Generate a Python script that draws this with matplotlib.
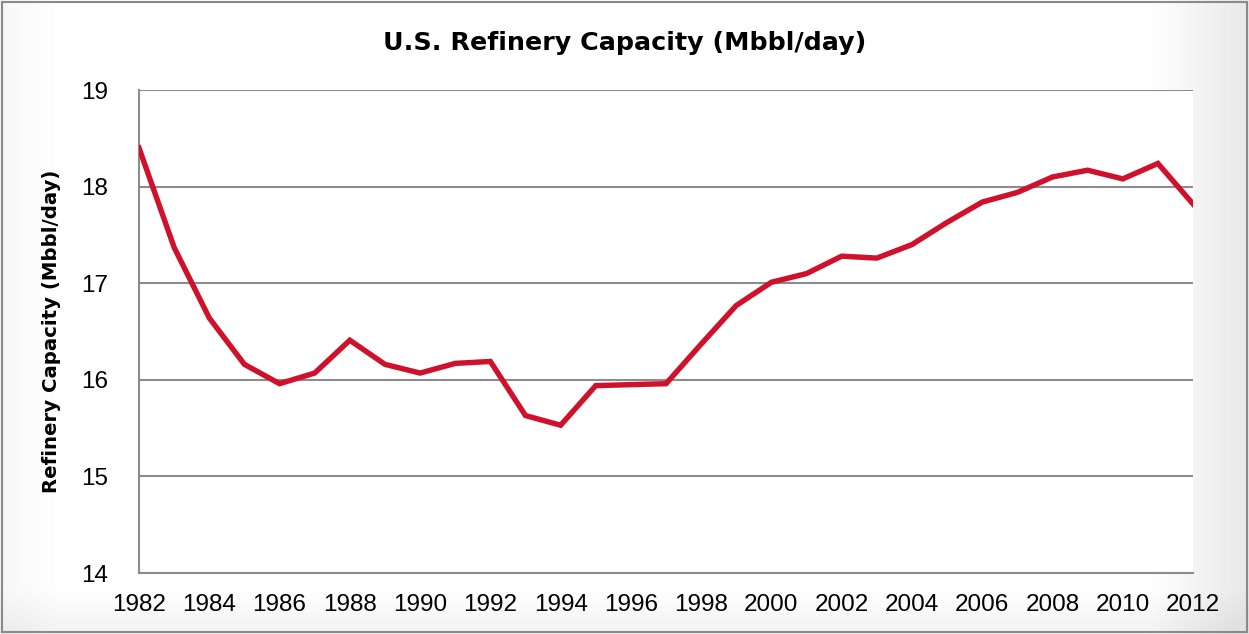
import matplotlib
matplotlib.use("Agg")
import matplotlib.pyplot as plt
import numpy as np

years = list(range(1982, 2013))
capacity = [18.40, 17.37, 16.64, 16.16, 15.96, 16.07, 16.41, 16.16, 16.07, 16.17,
            16.19, 15.63, 15.53, 15.94, 15.95, 15.96, 16.37, 16.77, 17.01, 17.10,
            17.28, 17.26, 17.40, 17.63, 17.84, 17.94, 18.10, 18.17, 18.08, 18.24, 17.82]
xticks = list(range(1982, 2013, 2))
yticks = [14, 15, 16, 17, 18, 19]

plt.rcParams['font.family'] = ['Liberation Sans', 'DejaVu Sans']

fig = plt.figure(figsize=(12.49, 6.34), dpi=100)
fig.patch.set_facecolor('white')

# subtle gradient background
xx = np.linspace(0, 1, 1249)
yy = np.linspace(0, 1, 634)
shade = np.clip((xx - 0.92) / 0.08, 0, 1)[None, :] * 0.09 + np.clip((yy - 0.93) / 0.07, 0, 1)[:, None] * 0.05
shade += np.clip((0.05 - xx) / 0.05, 0, 1)[None, :] * 0.03
img = 1 - np.clip(shade, 0, 0.12)
bg = fig.add_axes([0, 0, 1, 1], zorder=-10)
bg.imshow(img, cmap='gray', vmin=0, vmax=1, aspect='auto', extent=[0, 1, 0, 1])
bg.axis('off')
border = plt.Rectangle((0.002, 0.003), 0.996, 0.994, transform=fig.transFigure,
                       fill=False, edgecolor='#8a8a8a', linewidth=1.5)
fig.patches.append(border)

ax = fig.add_axes([0.1113, 0.0962, 0.9552 - 0.1113, 0.858 - 0.0962])
ax.set_facecolor('white')
ax.plot(years, capacity, color='#D0112B', linewidth=3.9, solid_joinstyle='miter', zorder=3)
ax.set_xlim(1982, 2012)
ax.set_ylim(14, 19)
ax.set_xticks(xticks)
ax.set_yticks(yticks)
ax.tick_params(length=0, labelsize=17.5, colors='black')
ax.tick_params(axis='x', pad=15)
ax.tick_params(axis='y', pad=22)
ax.grid(axis='y', color='#8c8c8c', linewidth=1.5)
ax.set_axisbelow(True)
for s in ['top', 'right']:
    ax.spines[s].set_visible(False)
for s in ['left', 'bottom']:
    ax.spines[s].set_color('#8c8c8c')
    ax.spines[s].set_linewidth(1.5)

fig.text(0.5, 0.932, 'U.S. Refinery Capacity (Mbbl/day)', ha='center', va='center',
         fontsize=18.3, fontweight='bold', family='DejaVu Sans')
fig.text(0.0416, 0.478, 'Refinery Capacity (Mbbl/day)', ha='center', va='center',
         rotation=90, fontsize=14.2, fontweight='bold', family='DejaVu Sans')

fig.savefig('out.png', dpi=100, facecolor=fig.get_facecolor())
